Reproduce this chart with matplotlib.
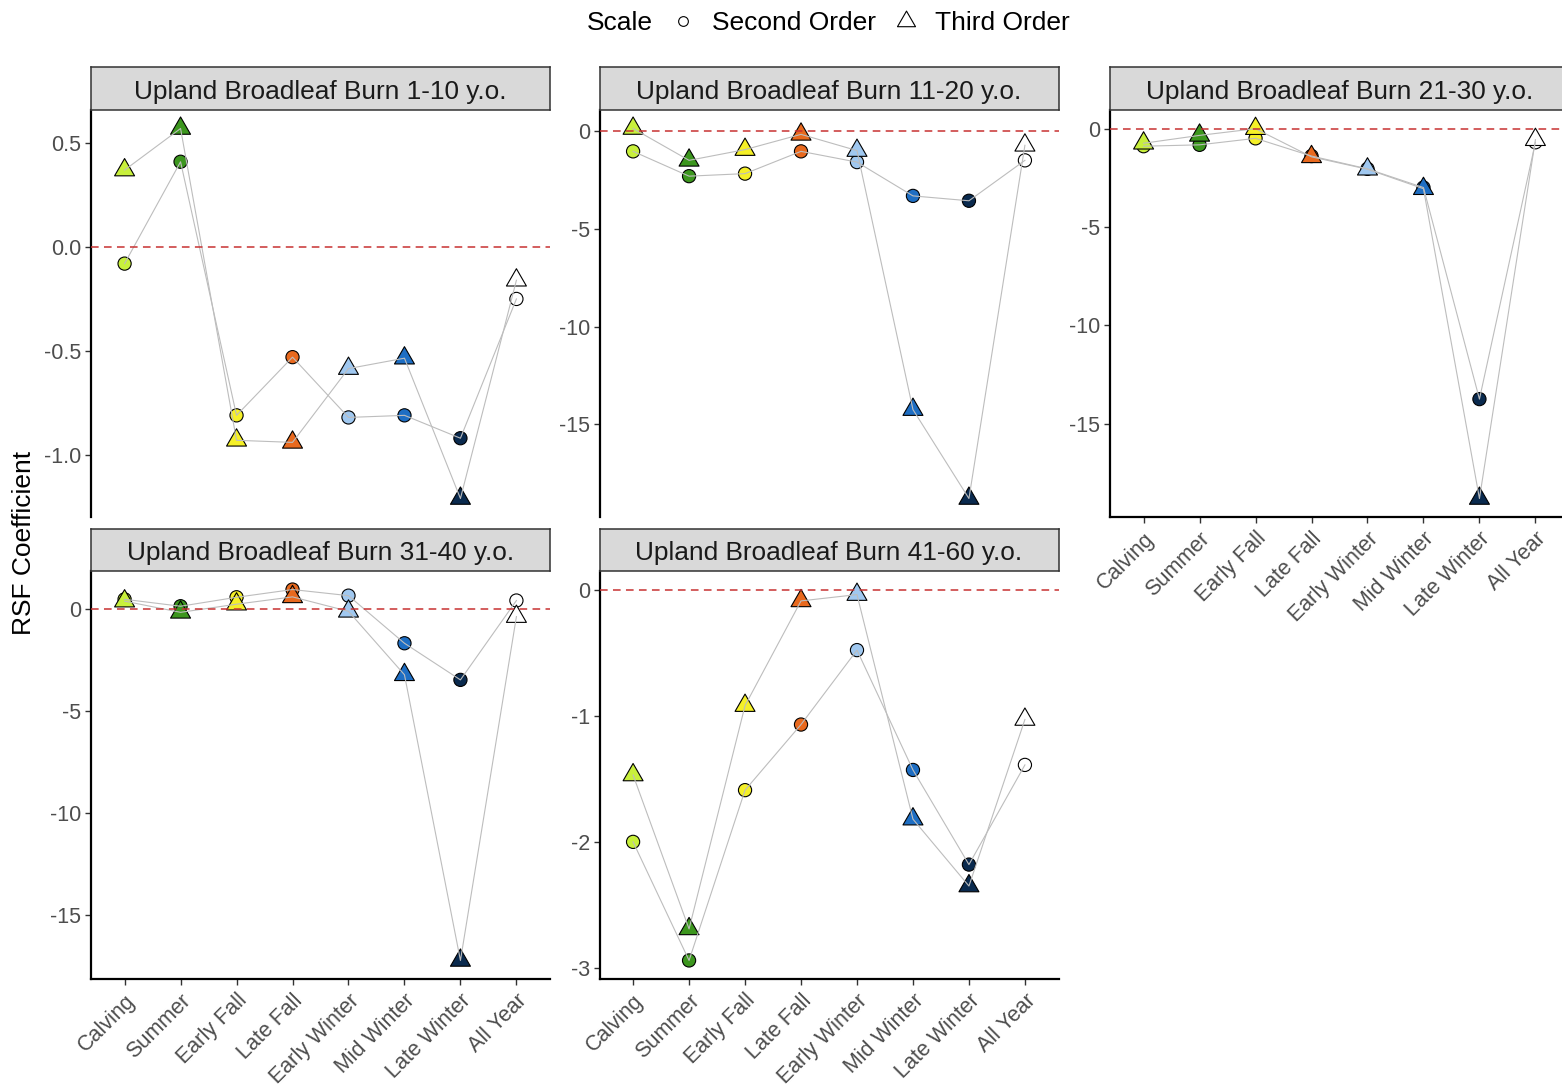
import numpy as np
import matplotlib
matplotlib.use('Agg')
import matplotlib.pyplot as plt
from matplotlib.lines import Line2D
from matplotlib.path import Path
from matplotlib.ticker import FormatStrFormatter

plt.rcParams['font.family'] = ['Liberation Sans', 'DejaVu Sans']
plt.rcParams['axes.unicode_minus'] = False

# Categories and colours
seasons = ['Calving', 'Summer', 'Early Fall', 'Late Fall', 'Early Winter',
           'Mid Winter', 'Late Winter', 'All Year']
season_colors = ['#c8f03c', '#3c961e', '#f5f028', '#e8691e', '#a0c8f0',
                 '#1e6ec3', '#0a2a4e', '#ffffff']

panel_titles = ['Upland Broadleaf Burn 1-10 y.o.', 'Upland Broadleaf Burn 11-20 y.o.',
                'Upland Broadleaf Burn 21-30 y.o.', 'Upland Broadleaf Burn 31-40 y.o.',
                'Upland Broadleaf Burn 41-60 y.o.']

# RSF coefficients
burn_1_10_second = [-0.08, 0.41, -0.81, -0.53, -0.82, -0.81, -0.92, -0.25]
burn_1_10_third = [0.37, 0.57, -0.93, -0.94, -0.585, -0.535, -1.21, -0.16]

burn_11_20_second = [-1.03, -2.30, -2.17, -1.03, -1.58, -3.31, -3.56, -1.49]
burn_11_20_third = [0.14, -1.49, -0.94, -0.16, -0.99, -14.25, -18.8, -0.72]

burn_21_30_second = [-0.9, -0.83, -0.5, -1.4, -2.05, -3.0, -13.75, -0.7]
burn_21_30_third = [-0.75, -0.35, -0.01, -1.44, -2.07, -3.06, -18.8, -0.57]

burn_31_40_second = [0.5, 0.16, 0.6, 0.98, 0.68, -1.66, -3.46, 0.44]
burn_31_40_third = [0.41, -0.14, 0.26, 0.62, -0.09, -3.21, -17.25, -0.35]

burn_41_60_second = [-2.0, -2.94, -1.59, -1.07, -0.48, -1.43, -2.18, -1.39]
burn_41_60_third = [-1.47, -2.69, -0.92, -0.09, -0.04, -1.82, -2.35, -1.03]

panel_second = [burn_1_10_second, burn_11_20_second, burn_21_30_second,
                burn_31_40_second, burn_41_60_second]
panel_third = [burn_1_10_third, burn_11_20_third, burn_21_30_third,
               burn_31_40_third, burn_41_60_third]
panel_yticks = [[-1.0, -0.5, 0.0, 0.5], [-15, -10, -5, 0], [-15, -10, -5, 0],
                [-15, -10, -5, 0], [-3, -2, -1, 0]]

# ggplot-like triangle centred on its centroid
tri = Path([(0, 1.0), (0.866, -0.5), (-0.866, -0.5), (0, 1.0)],
           [Path.MOVETO, Path.LINETO, Path.LINETO, Path.CLOSEPOLY])

W, H = 1562, 1090
fig = plt.figure(figsize=(W / 100, H / 100), dpi=100)


def rect(l, t, w, h):
    return [l / W, 1 - (t + h) / H, w / W, h / H]


cols = [91, 599.5, 1110]
rows = [(110, 407), (571, 408)]
strips = [(67, 43), (529, 42)]
pw = 459
grid = [(0, 0), (0, 1), (0, 2), (1, 0), (1, 1)]
show_x = [False, False, True, True, True]

tick_col = '#4d4d4d'
x = np.arange(len(seasons))

for i, (r, c) in enumerate(grid):
    ax = fig.add_axes(rect(cols[c], rows[r][0], pw, rows[r][1]))
    sec = np.array(panel_second[i])
    thr = np.array(panel_third[i])

    ax.axhline(0, color='#c83232', lw=1.1, ls=(0, (5, 3.5)), zorder=4)
    ax.scatter(x, sec, s=9.5 ** 2, marker='o', c=season_colors, edgecolors='black',
               linewidths=0.8, zorder=2)
    ax.scatter(x, thr, s=16.6 ** 2, marker=tri, c=season_colors, edgecolors='black',
               linewidths=0.8, zorder=2.5)
    ax.plot(x, sec, color='#bdbdbd', lw=0.8, zorder=3)
    ax.plot(x, thr, color='#bdbdbd', lw=0.8, zorder=3)

    lo = min(sec.min(), thr.min(), 0)
    hi = max(sec.max(), thr.max(), 0)
    pad = 0.05 * (hi - lo)
    ax.set_ylim(lo - pad, hi + pad)
    ax.set_xlim(-0.6, len(seasons) - 0.4)
    ax.set_yticks(panel_yticks[i])
    if i == 0:
        ax.yaxis.set_major_formatter(FormatStrFormatter('%.1f'))

    for s in ['top', 'right']:
        ax.spines[s].set_visible(False)
    ax.spines['left'].set_linewidth(1.6)
    ax.spines['bottom'].set_linewidth(1.6)
    ax.tick_params(axis='y', labelsize=15.5, labelcolor=tick_col, color='#333333',
                   length=4, width=1, pad=3)
    if show_x[i]:
        ax.set_xticks(x)
        ax.set_xticklabels(seasons, rotation=45, ha='right', va='top',
                           rotation_mode='anchor')
        ax.tick_params(axis='x', labelsize=15.5, labelcolor=tick_col, color='#333333',
                       length=4, width=1, pad=4)
    else:
        ax.spines['bottom'].set_visible(False)
        ax.set_xticks([])

    # facet strip
    sax = fig.add_axes(rect(cols[c], strips[r][0], pw, strips[r][1]))
    sax.set_facecolor('#d9d9d9')
    sax.set_xticks([])
    sax.set_yticks([])
    for s in sax.spines.values():
        s.set_color('#333333')
        s.set_linewidth(1.1)
    sax.text(0.5, 0.43, panel_titles[i], ha='center', va='center', fontsize=18.9,
             color='#1a1a1a', transform=sax.transAxes)

fig.text(24 / W, 1 - 543 / H, 'RSF Coefficient', rotation=90, ha='center',
         va='center', fontsize=19)

# legend on top
fig.text(587 / W, 1 - 23 / H, 'Scale', ha='left', va='center', fontsize=19)
handles = [Line2D([], [], ls='none', marker='o', ms=7, mfc='white', mec='black', mew=0.8),
           Line2D([], [], ls='none', marker=tri, ms=15, mfc='white', mec='black', mew=0.8)]
fig.legend(handles, ['Second Order', 'Third Order'], loc='center left',
           bbox_to_anchor=(672 / W, 1 - 23 / H), ncol=2, frameon=False, fontsize=19,
           handlelength=0.8, handletextpad=0.72, columnspacing=0.72, borderpad=0,
           borderaxespad=0)

fig.savefig('out.png', dpi=100)
